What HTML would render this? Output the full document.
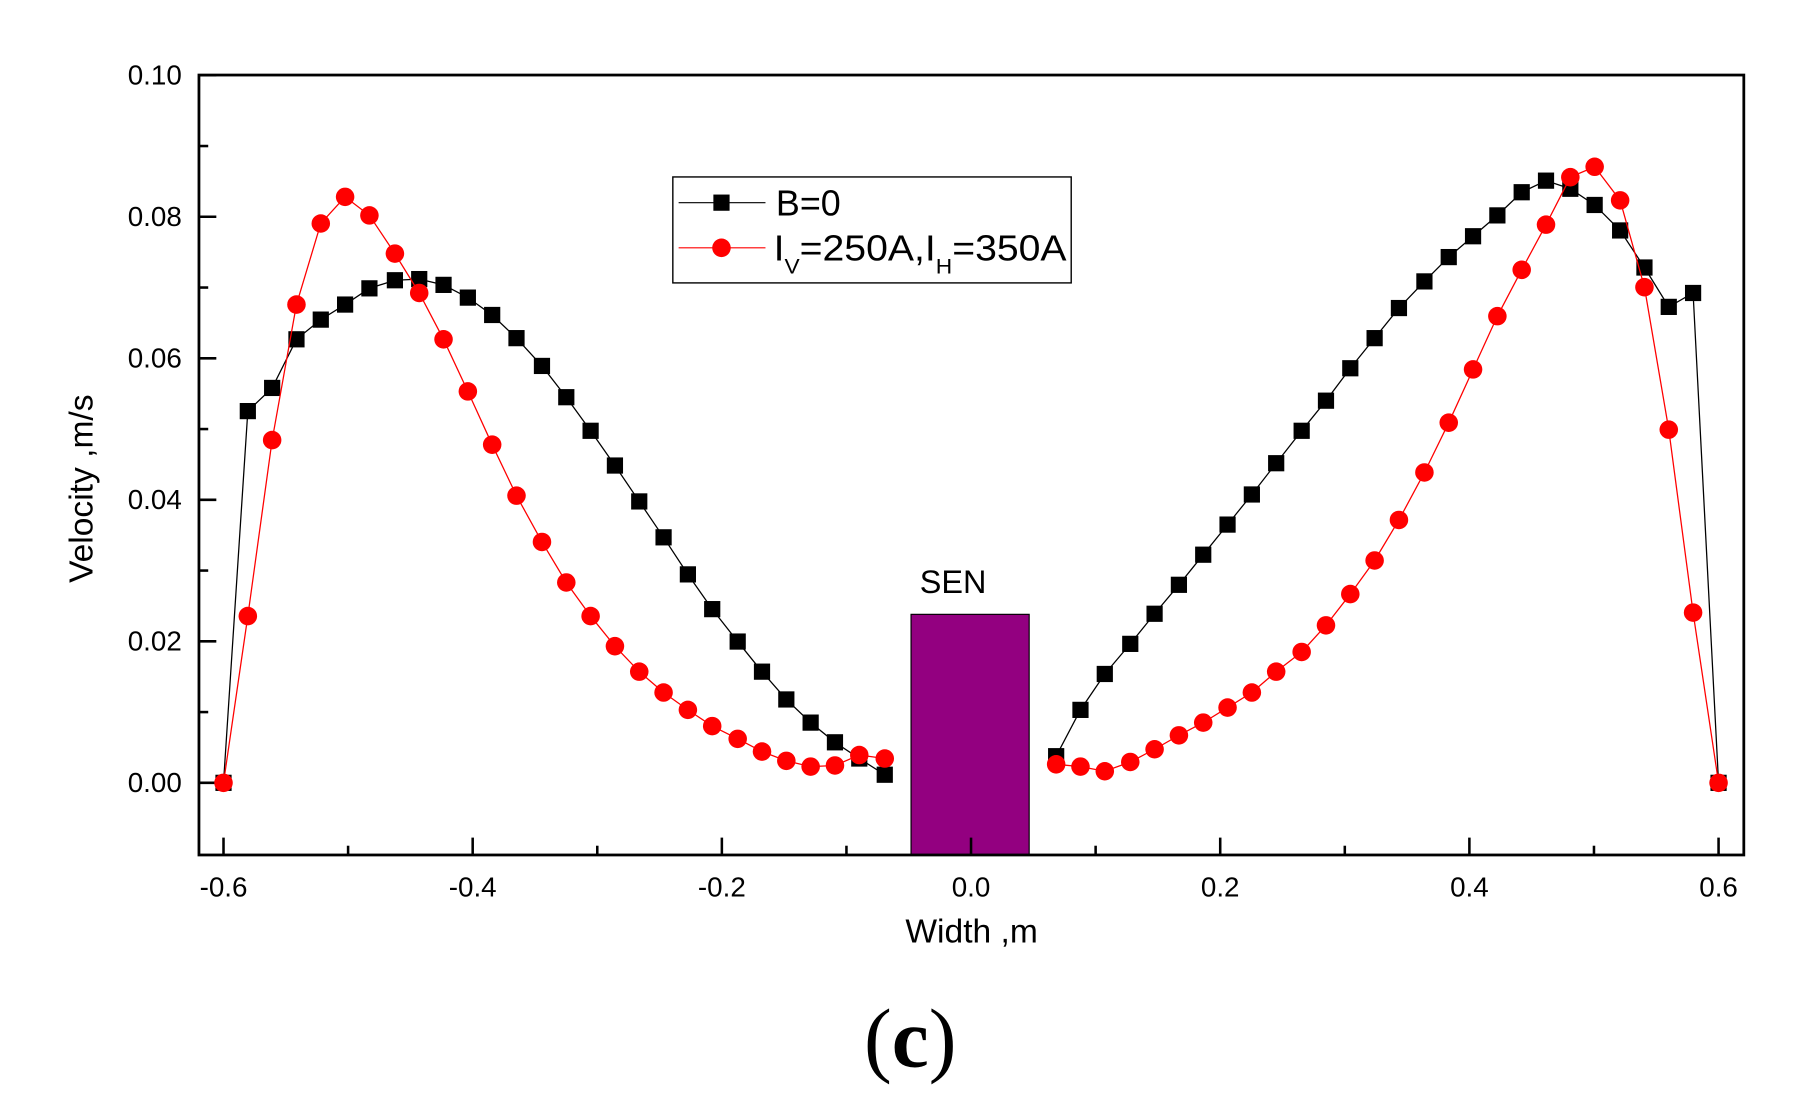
<!DOCTYPE html>
<html><head><meta charset="utf-8"><style>html,body{margin:0;padding:0;background:#fff;}svg{display:block;}</style></head>
<body>
<svg id="s" width="1817" height="1116" viewBox="0 0 1569 963.7" preserveAspectRatio="none" xmlns="http://www.w3.org/2000/svg" font-family="Liberation Sans, Arial, sans-serif">
<rect x="0" y="0" width="1569" height="964" fill="#fff"/>
<rect x="786.7" y="530.5" width="102" height="207.8" fill="#930080" stroke="#000" stroke-width="1"/>
<text x="823" y="512" font-size="28" text-anchor="middle">SEN</text>
<g id="ticks" stroke="#000" stroke-width="2.2"></g>
<g id="data"></g>
<rect x="171.8" y="64.8" width="1334" height="673.5" fill="none" stroke="#000" stroke-width="2.4"/>
<g font-size="24" text-anchor="end" id="ylab"></g>
<g font-size="24" text-anchor="middle" id="xlab"></g>
<text x="839" y="814" font-size="29" text-anchor="middle">Width ,m</text>
<text transform="translate(80,422) rotate(-90)" font-size="29" text-anchor="middle">Velocity ,m/s</text>
<rect x="581" y="152.8" width="344" height="91.5" fill="#fff" stroke="#000" stroke-width="1.2"/>
<line x1="586" y1="175" x2="661" y2="175" stroke="#000" stroke-width="1"/>
<rect x="616" y="168" width="14" height="14" fill="#000"/>
<line x1="586" y1="214" x2="661" y2="214" stroke="#f00" stroke-width="1"/>
<circle cx="623" cy="214" r="8" fill="#f00"/>
<text x="670" y="186" font-size="31">B=0</text>
<text x="668" y="225" font-size="31" textLength="253" lengthAdjust="spacingAndGlyphs">I<tspan font-size="18" dy="11">V</tspan><tspan dy="-11">=250A,I</tspan><tspan font-size="18" dy="11">H</tspan><tspan dy="-11">=350A</tspan></text>
<text x="786" y="921" font-size="72" font-family="Liberation Serif, serif" text-anchor="middle">(<tspan font-weight="bold">c</tspan>)</text>
</svg>
<script>
var NS="http://www.w3.org/2000/svg";
function el(p,t,a){var e=document.createElementNS(NS,t);for(var k in a)e.setAttribute(k,a[k]);p.appendChild(e);return e;}
var X0=193,X1=1484,Y0=676,Y1=65;
var ticks=document.getElementById('ticks');
for(var i=0;i<=12;i++){var v=-0.6+i*0.1;var x=X0+(v+0.6)/1.2*(X1-X0);var big=(i%2==0);el(ticks,'line',{x1:x,y1:738.3,x2:x,y2:738.3-(big?15:8)});}
var yl=document.getElementById('ylab'),xl=document.getElementById('xlab');
for(var i=0;i<=10;i++){var v=i*0.01;var y=Y0+(v/0.1)*(Y1-Y0);var big=(i%2==0);el(ticks,'line',{x1:171.8,y1:y,x2:171.8+(big?15:8),y2:y});
 if(big){var t=el(yl,'text',{x:157,y:y+8});t.textContent=v.toFixed(2);}}
for(var i=0;i<=6;i++){var v=-0.6+i*0.2;var x=X0+(v+0.6)/1.2*(X1-X0);var t=el(xl,'text',{x:x,y:774});t.textContent=(Math.abs(v)<1e-9?0:v).toFixed(1);}
var xl_=[193,214,235,256,277,298,319,341,362,383,404,425,446,468,489,510,531,552,573,594,615,637,658,679,700,721,742,764];
var bl=[676,355,335,293,276,263,249,242,241,246,257,272,292,316,343,372,402,433,464,496,526,554,580,604,624,641,655,669];
var rl=[676,532,380,263,193,170,186,219,253,293,338,384,428,468,503,532,558,580,598,613,627,638,649,657,662,661,652,655];
var xr=[912,933,954,976,997,1018,1039,1060,1081,1102,1124,1145,1166,1187,1208,1230,1251,1272,1293,1314,1335,1356,1377,1399,1420,1441,1462,1484];
var br=[653,613,582,556,530,505,479,453,427,400,372,346,318,292,266,243,222,204,186,166,156,163,177,199,231,265,253,676];
var rr=[660,662,666,658,647,635,624,611,598,580,563,540,513,484,449,408,365,319,273,233,194,153,144,173,248,371,529,676];
var d=document.getElementById('data');
function series(xs,ys,col,sq){var pts=xs.map(function(x,i){return x+','+ys[i];}).join(' ');
 el(d,'polyline',{points:pts,fill:'none',stroke:col,'stroke-width':1.1});
 xs.forEach(function(x,i){if(sq)el(d,'rect',{x:x-7,y:ys[i]-7,width:14,height:14,fill:col});else el(d,'circle',{cx:x,cy:ys[i],r:8,fill:col});});}
series(xl_,bl,'#000',true);series(xr,br,'#000',true);
series(xl_,rl,'#f00',false);series(xr,rr,'#f00',false);
</script>
</body></html>
